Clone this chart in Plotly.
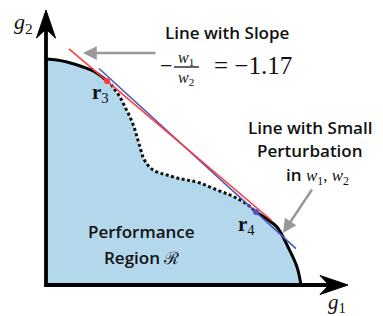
import plotly.graph_objects as go

# ---- data (g1, g2 coordinates; origin at the axes corner) ----
upper_g1 = [0, 11, 21, 37, 49, 61]
upper_g2 = [226, 225, 223, 218, 213, 204]
dotted_g1 = [61, 64, 69, 74, 79, 84, 88, 91, 94, 97, 101, 107, 114, 121, 131, 141, 154, 171, 184, 194, 202, 210]
dotted_g2 = [204, 202, 195, 188, 178, 168, 158, 148, 138, 128, 121, 115, 112, 110, 107, 105, 102, 95, 90, 85, 80, 73]
lower_g1 = [210, 221, 231, 242, 251, 255]
lower_g2 = [73, 66, 58, 38, 18, 0]

r3 = (61, 204)
r4 = (210, 73)
red_slope = -0.847
red_span = (23, 226)
blue_slope = -0.914
blue_span = (53, 250)

axis_g1_end = 302
axis_g2_end = 275

W, H = 383, 316
X_RANGE = [-38, 345]
Y_RANGE = [-39, 277]

FILL = "#b3d8ec"
SANS = "Open Sans"
SERIF = "Liberation Serif"

fig = go.Figure()

# region fill
poly_x = [0] + upper_g1 + dotted_g1[1:] + lower_g1[1:] + [0]
poly_y = [0] + upper_g2 + dotted_g2[1:] + lower_g2[1:] + [0]
fig.add_trace(go.Scatter(x=poly_x, y=poly_y, fill="toself", fillcolor=FILL,
                         mode="lines", line=dict(width=0, color=FILL), hoverinfo="skip"))

# frontier curves
fig.add_trace(go.Scatter(x=upper_g1, y=upper_g2, mode="lines",
                         line=dict(color="black", width=3, shape="spline")))
fig.add_trace(go.Scatter(x=dotted_g1, y=dotted_g2, mode="lines",
                         line=dict(color="#111", width=3, shape="spline", dash="3px,2.5px")))
fig.add_trace(go.Scatter(x=lower_g1, y=lower_g2, mode="lines",
                         line=dict(color="black", width=3, shape="spline")))

# tangent lines
def line_pts(p, slope, span):
    xs = list(span)
    ys = [p[1] + slope * (x - p[0]) for x in xs]
    return xs, ys

bx, by = line_pts(r4, blue_slope, blue_span)
fig.add_trace(go.Scatter(x=bx, y=by, mode="lines", line=dict(color="#4a55c0", width=1.6)))
rx, ry = line_pts(r3, red_slope, red_span)
fig.add_trace(go.Scatter(x=rx, y=ry, mode="lines", line=dict(color="#ff3b3b", width=1.6)))

# points
fig.add_trace(go.Scatter(x=[r3[0]], y=[r3[1]], mode="markers",
                         marker=dict(color="#ff3b3b", size=6)))
fig.add_trace(go.Scatter(x=[r4[0]], y=[r4[1]], mode="markers",
                         marker=dict(color="#4a55c0", size=6)))

# axes with stealth arrowheads
L, HW, NOTCH = 28, 9.5, 9
fig.add_trace(go.Scatter(x=[0, 0, axis_g1_end - NOTCH], y=[axis_g2_end - NOTCH, 0, 0], mode="lines",
                         line=dict(color="black", width=3.8)))
fig.add_trace(go.Scatter(x=[0, -HW, 0, HW, 0],
                         y=[axis_g2_end, axis_g2_end - L, axis_g2_end - L + NOTCH, axis_g2_end - L, axis_g2_end],
                         fill="toself", fillcolor="black", mode="lines", line=dict(color="black", width=1)))
fig.add_trace(go.Scatter(x=[axis_g1_end, axis_g1_end - L, axis_g1_end - L + NOTCH, axis_g1_end - L, axis_g1_end],
                         y=[0, -HW, 0, HW, 0],
                         fill="toself", fillcolor="black", mode="lines", line=dict(color="black", width=1)))

ann = []
def text(x, y, t, size, family, xanchor="center", color="#111", weight=400):
    ann.append(dict(x=x, y=y, text=t, showarrow=False, xanchor=xanchor, yanchor="middle",
                    font=dict(size=size, family=family, color=color, weight=weight)))

text(-23, 262, "<i>g</i><sub>2</sub>", 22, SERIF)
text(291, -18, "<i>g</i><sub>1</sub>", 21, SERIF)
text(54, 192, "<b>r</b><sub>3</sub>", 21, SERIF)
text(200, 60, "<b>r</b><sub>4</sub>", 21, SERIF)

text(181, 253, "Line with Slope", 17, SANS, weight=600)
text(120, 220, "−", 22, SERIF)
text(140, 227, "<i>w</i><sub>1</sub>", 16, SERIF)
text(140, 207, "<i>w</i><sub>2</sub>", 16, SERIF)
text(166, 220, "= −1.17", 25, SERIF, xanchor="left")

text(264, 158, "Line with Small", 17, SANS, weight=600)
text(264, 135, "Perturbation", 17, SANS, weight=600)
text(271, 110, "in <span style='font-family:Liberation Serif;font-weight:400'><i>w</i><sub>1</sub>, <i>w</i><sub>2</sub></span>", 17, SANS, weight=600)

text(95, 54, "Performance", 17, SANS, weight=600)
text(95, 28, "Region <span style='font-family:DejaVu Serif;font-weight:400'>ℛ</span>", 17, SANS, weight=600)

# gray pointer arrows
ann.append(dict(x=37, y=232, ax=111, ay=232, axref="x", ayref="y", text="", showarrow=True,
                arrowhead=2, arrowsize=1.1, arrowwidth=2.5, arrowcolor="#999"))
ann.append(dict(x=237, y=52, ax=267, ay=97, axref="x", ayref="y", text="", showarrow=True,
                arrowhead=2, arrowsize=1.1, arrowwidth=2.5, arrowcolor="#999"))

fig.update_layout(
    width=W, height=H, margin=dict(l=0, r=0, t=0, b=0),
    paper_bgcolor="white", plot_bgcolor="white", showlegend=False,
    xaxis=dict(range=X_RANGE, visible=False, fixedrange=True),
    yaxis=dict(range=Y_RANGE, visible=False, fixedrange=True),
    annotations=ann,
)
# fraction bar
fig.add_shape(type="line", x0=128, x1=153, y0=218, y1=218, line=dict(color="#111", width=1.3))

fig.write_html("out.html")
